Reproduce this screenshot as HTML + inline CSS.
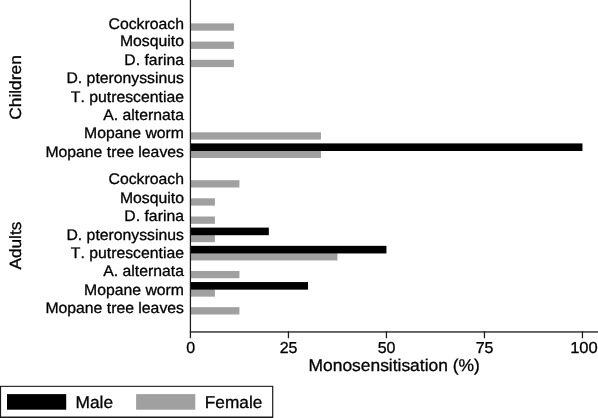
<!DOCTYPE html>
<html><head><meta charset="utf-8"><title>Monosensitisation</title>
<style>
html,body{margin:0;padding:0;background:#fff;}
svg{display:block;}
text{font-family:"Liberation Sans",sans-serif;fill:#000;stroke:#000;stroke-width:0.3px;text-rendering:geometricPrecision;font-kerning:none;}
.cat{font-size:15.35px;text-anchor:end;}
.tick{font-size:15.9px;text-anchor:middle;}
.big{font-size:17px;}
</style></head><body>
<svg width="598" height="418" viewBox="0 0 598 418">
<rect x="0" y="0" width="598" height="418" fill="#fff"/>
<rect x="190.42" y="23.40" width="43.52" height="7.3" fill="#a0a0a0"/>
<text class="cat" transform="translate(183.95,28.60) scale(1.028,1)">Cockroach</text>
<rect x="190.42" y="41.60" width="43.52" height="7.3" fill="#a0a0a0"/>
<text class="cat" transform="translate(183.95,46.25) scale(1.028,1)">Mosquito</text>
<rect x="190.42" y="59.80" width="43.52" height="7.3" fill="#a0a0a0"/>
<text class="cat" transform="translate(183.95,64.85) scale(1.028,1)">D. farina</text>
<text class="cat" transform="translate(183.95,83.15) scale(1.028,1)">D. pteronyssinus</text>
<text class="cat" transform="translate(183.95,101.55) scale(1.028,1)">T. putrescentiae</text>
<text class="cat" transform="translate(183.95,120.15) scale(1.028,1)">A. alternata</text>
<rect x="190.42" y="132.30" width="130.55" height="7.3" fill="#a0a0a0"/>
<text class="cat" transform="translate(183.95,138.10) scale(1.028,1)">Mopane worm</text>
<rect x="190.42" y="150.70" width="130.55" height="7.3" fill="#a0a0a0"/>
<rect x="190.42" y="143.40" width="392.03" height="7.6" fill="#000"/>
<text class="cat" transform="translate(183.95,156.65) scale(1.028,1)">Mopane tree leaves</text>
<rect x="190.42" y="180.20" width="49.00" height="7.3" fill="#a0a0a0"/>
<text class="cat" transform="translate(183.95,184.35) scale(1.028,1)">Cockroach</text>
<rect x="190.42" y="198.30" width="24.50" height="7.3" fill="#a0a0a0"/>
<text class="cat" transform="translate(183.95,202.55) scale(1.028,1)">Mosquito</text>
<rect x="190.42" y="216.50" width="24.50" height="7.3" fill="#a0a0a0"/>
<text class="cat" transform="translate(183.95,221.35) scale(1.028,1)">D. farina</text>
<rect x="190.42" y="234.90" width="24.50" height="7.3" fill="#a0a0a0"/>
<rect x="190.42" y="227.60" width="78.41" height="7.6" fill="#000"/>
<text class="cat" transform="translate(183.95,239.65) scale(1.028,1)">D. pteronyssinus</text>
<rect x="190.42" y="253.15" width="147.01" height="7.3" fill="#a0a0a0"/>
<rect x="190.42" y="245.85" width="196.02" height="7.6" fill="#000"/>
<text class="cat" transform="translate(183.95,258.05) scale(1.028,1)">T. putrescentiae</text>
<rect x="190.42" y="270.95" width="49.00" height="7.3" fill="#a0a0a0"/>
<text class="cat" transform="translate(183.95,276.40) scale(1.028,1)">A. alternata</text>
<rect x="190.42" y="289.35" width="24.50" height="7.3" fill="#a0a0a0"/>
<rect x="190.42" y="282.05" width="117.61" height="7.6" fill="#000"/>
<text class="cat" transform="translate(183.95,294.55) scale(1.028,1)">Mopane worm</text>
<rect x="190.42" y="307.20" width="49.00" height="7.3" fill="#a0a0a0"/>
<text class="cat" transform="translate(183.95,313.10) scale(1.028,1)">Mopane tree leaves</text>
<rect x="189.8" y="0" width="1.25" height="338.2" fill="#1a1a1a"/>
<rect x="189.8" y="331.3" width="408.2" height="1.3" fill="#1a1a1a"/>
<rect x="287.81" y="331.3" width="1.25" height="6.9" fill="#1a1a1a"/>
<rect x="385.81" y="331.3" width="1.25" height="6.9" fill="#1a1a1a"/>
<rect x="483.82" y="331.3" width="1.25" height="6.9" fill="#1a1a1a"/>
<rect x="581.83" y="331.3" width="1.25" height="6.9" fill="#1a1a1a"/>
<text class="tick" transform="translate(190.57,352.9) scale(1.005,1)">0</text>
<text class="tick" transform="translate(288.58,352.9) scale(1.005,1)">25</text>
<text class="tick" transform="translate(386.58,352.9) scale(1.005,1)">50</text>
<text class="tick" transform="translate(484.59,352.9) scale(1.005,1)">75</text>
<text class="tick" transform="translate(583.95,352.9) scale(1.04,1)">100</text>
<text class="big" transform="translate(394.15,370.7) scale(1.024,1)" text-anchor="middle">Monosensitisation (%)</text>
<text class="big" transform="translate(21.3,87.5) rotate(-90) scale(1.058,1)" style="font-size:16.4px" text-anchor="middle">Children</text>
<text class="big" transform="translate(21.3,245.6) rotate(-90) scale(1.05,1)" style="font-size:16.4px" text-anchor="middle">Adults</text>
<rect x="0" y="385.8" width="273.3" height="32.2" fill="#1a1a1a"/>
<rect x="1.1" y="386.9" width="271.0" height="29.6" fill="#fff"/>
<rect x="7" y="394.1" width="59.2" height="15.6" fill="#000"/>
<rect x="136.1" y="394.1" width="59.2" height="15.6" fill="#a0a0a0"/>
<text class="big" transform="translate(75.5,407.7) scale(1.02,1)">Male</text>
<text class="big" transform="translate(204.8,407.7) scale(1.015,1)">Female</text>
</svg></body></html>
